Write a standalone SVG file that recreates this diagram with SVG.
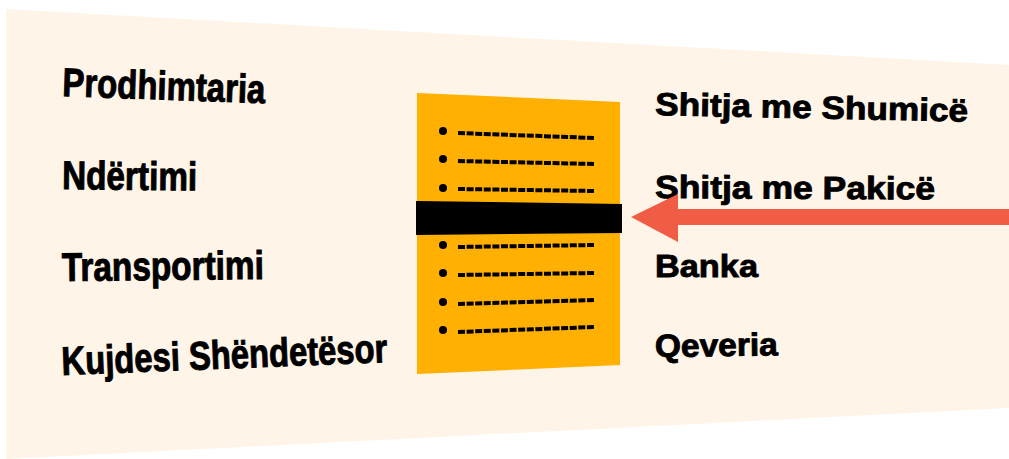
<svg xmlns="http://www.w3.org/2000/svg" width="1009" height="459" viewBox="0 0 1009 459">
<style>
.l{font-family:"Liberation Sans",Arial,sans-serif;font-weight:bold;font-size:40px;fill:#000;stroke:#000;stroke-width:1}
.r{font-family:"Liberation Sans",Arial,sans-serif;font-weight:bold;font-size:32px;fill:#000;stroke:#000;stroke-width:0.9}
.dash{stroke:#000;stroke-width:4;stroke-dasharray:7 1.6;fill:none}
.dot{fill:#000}
</style>
<g id="background"><polygon points="6,9 1009,65 1009,408 6,459" fill="#FEF4E8"/></g>
<g id="document">
<polygon points="417,93 620,102 620,365 417,374" fill="#FFB000"/>
<polygon points="416,201 622,204 622,233 416,235" fill="#000"/>
<circle class="dot" cx="443" cy="131" r="4"/>
<circle class="dot" cx="443" cy="159" r="4"/>
<circle class="dot" cx="443" cy="188" r="4"/>
<circle class="dot" cx="443" cy="245" r="4"/>
<circle class="dot" cx="443" cy="273" r="4"/>
<circle class="dot" cx="443" cy="302" r="4"/>
<circle class="dot" cx="443" cy="330" r="4"/>
<line class="dash" x1="458" y1="133" x2="595" y2="138"/>
<line class="dash" x1="458" y1="161" x2="595" y2="164"/>
<line class="dash" x1="458" y1="189" x2="595" y2="191"/>
<line class="dash" x1="458" y1="247" x2="595" y2="245"/>
<line class="dash" x1="458" y1="275" x2="595" y2="273"/>
<line class="dash" x1="458" y1="304" x2="595" y2="300"/>
<line class="dash" x1="458" y1="332" x2="595" y2="327"/>
</g>
<g id="left-labels">
<g id="prodhimtaria"><text class="l" x="62" y="96" textLength="203" lengthAdjust="spacingAndGlyphs" transform="rotate(2 62 96)">Prodhimtaria</text></g>
<g id="ndertimi"><text class="l" x="62" y="189" textLength="135" lengthAdjust="spacingAndGlyphs" transform="rotate(0.6 62 189)">Ndërtimi</text></g>
<g id="transportimi"><text class="l" x="62" y="281" textLength="202" lengthAdjust="spacingAndGlyphs" transform="rotate(-0.6 62 281)">Transportimi</text></g>
<g id="kujdesi"><text class="l" x="62" y="375" textLength="326" lengthAdjust="spacingAndGlyphs" transform="rotate(-2.3 62 375)">Kujdesi Shëndetësor</text></g>
</g>
<g id="right-labels">
<g id="shumice"><text class="r" x="655" y="115" textLength="313" lengthAdjust="spacingAndGlyphs" transform="rotate(1.2 655 115)">Shitja me Shumicë</text></g>
<g id="pakice"><text class="r" x="655" y="198" textLength="280" lengthAdjust="spacingAndGlyphs" transform="rotate(0.3 655 198)">Shitja me Pakicë</text></g>
<g id="banka"><text class="r" x="655" y="277" textLength="103" lengthAdjust="spacingAndGlyphs">Banka</text></g>
<g id="qeveria"><text class="r" x="655" y="357" textLength="123" lengthAdjust="spacingAndGlyphs" transform="rotate(-0.8 655 357)">Qeveria</text></g>
</g>
<g id="connectors">
<polygon points="1009,209 678,209 678,194 631,217 678,242 678,225 1009,225" fill="#F05D44"/>
</g>
</svg>
